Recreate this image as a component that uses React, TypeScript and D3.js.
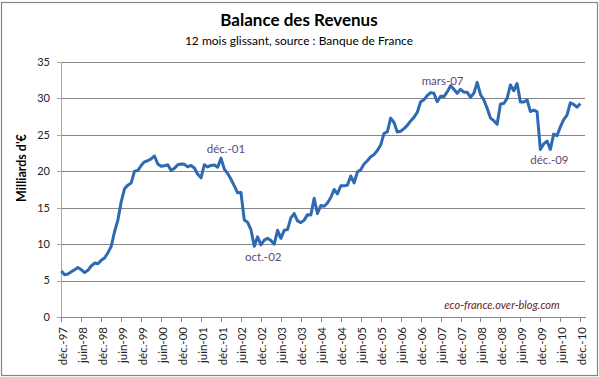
import React from "react";
import * as d3 from "d3";

// Monthly values, déc.-97 … déc.-10 (Milliards d'€)
const values: number[] = [
  6.3, 5.8, 5.9, 6.2, 6.5, 6.8, 6.5, 6.1, 6.4, 7.0, 7.4, 7.3,
  7.8, 8.1, 8.8, 9.7, 11.7, 13.3, 15.8, 17.6, 18.1, 18.4, 20.0, 20.1,
  20.8, 21.3, 21.45, 21.7, 22.1, 21.0, 20.7, 20.75, 20.9, 20.1, 20.4, 20.9,
  21.0, 20.95, 20.6, 20.8, 20.45, 19.6, 19.1, 20.9, 20.6, 20.8, 20.85, 20.55,
  21.8, 20.3, 19.7, 18.9, 18.0, 17.05, 17.1, 13.3, 13.0, 12.0, 9.7, 11.0,
  9.9, 10.55, 10.8, 10.5, 10.0, 11.9, 10.8, 11.9, 12.0, 13.6, 14.2, 13.2,
  12.95, 13.3, 14.05, 14.0, 16.3, 14.2, 15.3, 15.2, 15.65, 16.4, 17.5, 16.9,
  18.0, 18.0, 18.1, 19.35, 18.4, 19.9, 20.2, 21.0, 21.45, 22.0, 22.3, 22.85,
  23.6, 25.2, 25.4, 27.3, 26.7, 25.4, 25.5, 25.85, 26.3, 26.9, 27.4, 28.1,
  29.55, 29.8, 30.4, 30.8, 30.7, 29.55, 30.3, 30.25, 30.9, 31.75, 31.25, 30.7,
  31.25, 30.85, 30.85, 30.15, 30.7, 32.2, 30.55, 29.8, 28.65, 27.3, 26.95, 26.45,
  29.25, 29.3, 30.0, 31.85, 31.05, 32.05, 29.5, 29.5, 29.8, 28.2, 28.4, 28.2,
  23.0, 23.75, 24.15, 23.0, 25.1, 24.9, 26.1, 27.1, 27.7, 29.4, 29.2, 28.8,
  29.3,
];

const tickLabels: string[] = [
  "déc.-97", "juin-98", "déc.-98", "juin-99", "déc.-99", "juin-00", "déc.-00",
  "juin-01", "déc.-01", "juin-02", "déc.-02", "juin-03", "déc.-03", "juin-04",
  "déc.-04", "juin-05", "déc.-05", "juin-06", "déc.-06", "juin-07", "déc.-07",
  "juin-08", "déc.-08", "juin-09", "déc.-09", "juin-10", "déc.-10",
];
const tickStep = 6;

const yTicks: number[] = [0, 5, 10, 15, 20, 25, 30, 35];

const annotationIndex: number[] = [48, 58, 111, 144];
const annotationText: string[] = ["déc.-01", "oct.-02", "mars-07", "déc.-09"];

const title = "Balance des Revenus";
const subtitle = "12 mois glissant, source : Banque de France";
const yTitle = "Milliards d'€";
const watermark = "eco-france.over-blog.com";

const W = 599;
const H = 377;
const left = 61;
const right = 585;
const top = 62;
const bottom = 317;
const FONT = "Lato, 'Open Sans', sans-serif";

export default function App() {
  const x = d3.scaleLinear().domain([0, values.length - 1]).range([61.3, 580.3]);
  const y = d3.scaleLinear().domain([0, 35]).range([bottom, top]);
  const line = d3
    .line<number>()
    .x((_, i) => x(i))
    .y((d) => y(d));

  const annOffsets = [
    [5, -9],
    [9, 11],
    [12, -12],
    [9, 11],
  ];

  return (
    <svg
      width={W}
      height={H}
      style={{ position: "absolute", left: 0, top: 0, background: "#fff" }}
      fontFamily={FONT}
    >
      <rect x={0} y={0} width={W} height={H} fill="#fff" />
      <rect x={1.5} y={2.5} width={596} height={373} fill="none" stroke="#868686" strokeWidth={1.2} />
      <text x={299} y={26} textAnchor="middle" fontSize={17} fontWeight="bold" fill="#000">
        {title}
      </text>
      <text x={299} y={45} textAnchor="middle" fontSize={12} fill="#000">
        {subtitle}
      </text>

      {/* gridlines */}
      {yTicks.filter((t) => t > 0).map((t) => (
        <line
          key={"g" + t}
          x1={left}
          x2={right}
          y1={Math.round(y(t)) + 0.5}
          y2={Math.round(y(t)) + 0.5}
          stroke="#868686"
          strokeWidth={1}
        />
      ))}
      {/* y axis */}
      <line x1={left + 0.5} x2={left + 0.5} y1={top} y2={bottom + 1} stroke="#a6a6a6" />
      {yTicks.map((t) => (
        <g key={"yt" + t}>
          <line
            x1={left - 4}
            x2={left}
            y1={Math.round(y(t)) + 0.5}
            y2={Math.round(y(t)) + 0.5}
            stroke="#a6a6a6"
          />
          <text x={50} y={y(t)} dy="0.35em" textAnchor="end" fontSize={11} fill="#222">
            {t}
          </text>
        </g>
      ))}
      <text
        transform={`translate(22,168) rotate(-90)`}
        textAnchor="middle"
        dy="0.35em"
        fontSize={12.5}
        fontWeight="bold"
        fill="#000"
      >
        {yTitle}
      </text>

      {/* x axis */}
      <line x1={left} x2={right + 1} y1={bottom + 0.5} y2={bottom + 0.5} stroke="#868686" />
      {tickLabels.map((lab, k) => {
        const xi = Math.round(x(k * tickStep)) + 0.5;
        return (
          <g key={"xt" + k}>
            <line x1={xi} x2={xi} y1={bottom} y2={bottom + 5} stroke="#868686" />
            <text
              transform={`translate(${x(k * tickStep) + 1.5},${bottom + 10}) rotate(-90)`}
              textAnchor="end"
              dy="0.35em"
              fontSize={11.5}
              fill="#222"
            >
              {lab}
            </text>
          </g>
        );
      })}

      <path d={line(values) || ""} fill="none" stroke="#2E69B3" strokeWidth={3} strokeLinejoin="round" />

      {annotationIndex.map((idx, k) => (
        <text
          key={"a" + k}
          x={x(idx) + annOffsets[k][0]}
          y={y(values[idx]) + annOffsets[k][1]}
          dy="0.35em"
          textAnchor="middle"
          fontSize={11.5}
          fill="#60497A"
        >
          {annotationText[k]}
        </text>
      ))}

      <text x={502} y={305} dy="0.35em" textAnchor="middle" fontSize={11} fontStyle="italic" fill="#632523">
        {watermark}
      </text>
    </svg>
  );
}
